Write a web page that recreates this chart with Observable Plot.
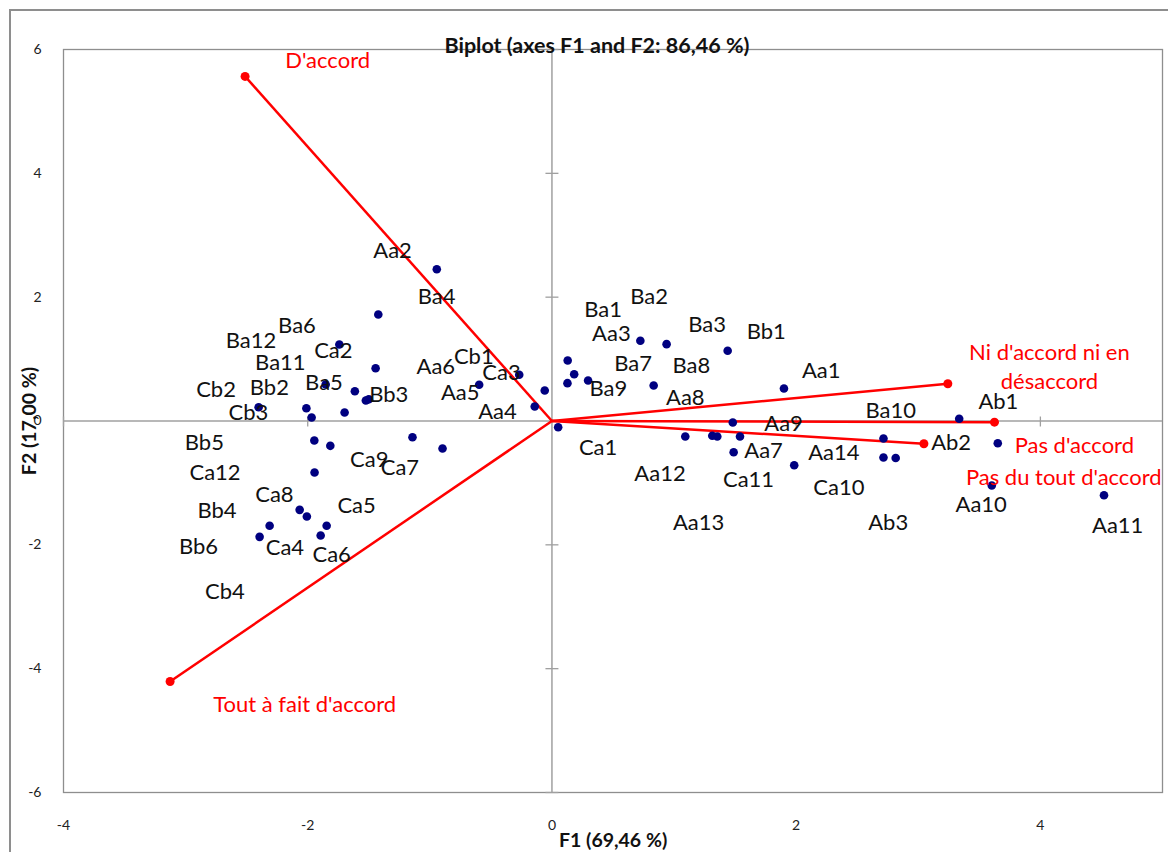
<!DOCTYPE html>
<html><head><meta charset="utf-8">
<script src="https://cdn.jsdelivr.net/npm/d3@7"></script>
<script src="https://cdn.jsdelivr.net/npm/@observablehq/plot@0.6"></script>
<style>
body{margin:0;background:#fff;}
#wrap{position:relative;width:1168px;height:852px;overflow:hidden;}
#border{position:absolute;left:9px;top:9px;width:1300px;height:1000px;border-left:2px solid #8e8e8e;border-top:2px solid #8e8e8e;}
#chart{position:absolute;left:0;top:0;}
</style></head><body>
<div id="wrap"><div id="border"></div><div id="chart"></div></div>
<script>
const obsNames = ["Aa2","Ba4","Ca2","Ba6","Ba5","Ba12","Bb3","Ba11","Aa6","Ca3","Cb1","Aa4","Cb3","Bb2","Cb2","Aa5","Bb5","Ca12","Ca9","Ca7","Ca8","Ca5","Bb4","Bb6","Ca4","Ca6","Cb4",
  "Ca1","Ba1","Ba7","Ba9","Aa8","Aa3","Ba2","Bb1","Ba8","Aa1","Aa9","Aa12","Aa13","Ba3","Aa7","Ca11","Ca10","Ba10","Aa14","Ab3","Ab1","Ab2","Aa10","Aa11"];
const obsF1 = [-0.943,-1.422,-1.741,-1.444,-1.853,-1.614,-1.524,-1.500,-0.596,-0.268,-0.059,-0.141,-2.402,-2.011,-1.968,-1.698,-1.946,-1.815,-1.142,-0.896,-1.944,-2.066,-2.007,-2.312,-1.845,-2.394,-1.894,
  0.051,0.129,0.182,0.127,0.296,0.724,0.939,1.439,0.833,1.900,1.481,1.092,1.313,1.354,1.540,1.488,1.984,2.715,2.715,2.815,3.335,3.651,3.602,4.521];
const obsF2 = [2.452,1.721,1.236,0.853,0.590,0.481,0.331,0.350,0.585,0.746,0.493,0.234,0.223,0.207,0.057,0.137,-0.315,-0.401,-0.262,-0.444,-0.832,-1.435,-1.543,-1.693,-1.693,-1.871,-1.850,
  -0.100,0.977,0.756,0.611,0.654,1.296,1.241,1.134,0.574,0.525,-0.024,-0.250,-0.239,-0.250,-0.250,-0.504,-0.714,-0.283,-0.590,-0.598,0.036,-0.359,-1.042,-1.199];
const obsLabelF1 = [-1.305,-0.945,-1.790,-2.088,-1.867,-2.465,-1.336,-2.224,-0.951,-0.413,-0.640,-0.446,-2.486,-2.314,-2.751,-0.751,-2.846,-2.759,-1.496,-1.245,-2.273,-1.600,-2.743,-2.895,-2.187,-1.804,-2.678,
  0.378,0.419,0.664,0.462,1.092,0.487,0.795,1.755,1.142,2.205,1.897,0.885,1.201,1.270,1.733,1.610,2.350,2.774,2.309,2.754,3.656,3.269,3.515,4.633];
const obsLabelF2 = [2.754,2.000,1.128,1.543,0.611,1.300,0.423,0.945,0.869,0.772,1.042,0.153,0.126,0.530,0.504,0.456,-0.359,-0.843,-0.627,-0.763,-1.187,-1.370,-1.446,-2.027,-2.048,-2.168,-2.754,
  -0.439,1.796,0.924,0.520,0.375,1.409,2.000,1.435,0.885,0.805,-0.045,-0.853,-1.651,1.548,-0.488,-0.950,-1.079,0.170,-0.520,-1.640,0.304,-0.359,-1.354,-1.688];

const varNames = ["D'accord","Tout à fait d'accord","Ni d'accord ni en\ndésaccord","Pas d'accord","Pas du tout d'accord"];
const varF1 = [-2.513,-3.127,3.242,3.624,3.046];
const varF2 = [5.565,-4.208,0.601,-0.019,-0.368];
const varLabelF1 = [-1.837,-2.025,4.074,4.278,4.191];
const varLabelF2 = [5.851,-4.543,0.901,-0.359,-0.880];

const xTicks = [-4,-2,0,2,4];
const yTicks = [-6,-4,-2,0,2,4,6];
const titleText = "Biplot (axes F1 and F2: 86,46 %)";
const xTitle = "F1 (69,46 %)";
const yTitle = "F2 (17,00 %)";

const obs = obsNames.map((name,i)=>({name, f1: obsF1[i], f2: obsF2[i], lx: obsLabelF1[i], ly: obsLabelF2[i]}));
const vars = varNames.map((name,i)=>({name, f1: varF1[i], f2: varF2[i], lx: varLabelF1[i], ly: varLabelF2[i]}));

const gray = "#8e8e8e";
const axGray = "#a0a0a0";
const fmt = d => String(d);

const chart = Plot.plot({
  width: 1168, height: 852,
  marginLeft: 63, marginRight: 6, marginTop: 49, marginBottom: 60,
  x: {domain: [-4, 5]},
  y: {domain: [-6, 6]},
  style: {fontFamily: "Lato, 'Open Sans', sans-serif", background: "transparent", overflow: "visible"},
  marks: [
    Plot.frame({stroke: gray, strokeWidth: 1.3}),
    Plot.ruleX([0], {stroke: axGray, strokeWidth: 1.5}),
    Plot.ruleY([0], {stroke: axGray, strokeWidth: 1.5}),
    Plot.ruleX(xTicks.filter(d => d !== 0), {x: d => d, y1: 0, y2: 0, insetTop: -4, insetBottom: -6, stroke: axGray, strokeWidth: 1.3}),
    Plot.ruleY(yTicks.filter(d => d !== 0), {y: d => d, x1: 0, x2: 0, insetLeft: -6, insetRight: -7, stroke: axGray, strokeWidth: 1.3}),
    Plot.axisX(xTicks, {tickSize: 0, tickPadding: 28, fontSize: 14, tickFormat: fmt, label: null, fill: "#222"}),
    Plot.axisY(yTicks, {tickSize: 0, tickPadding: 22, fontSize: 14, tickFormat: fmt, label: null, fill: "#222"}),
    Plot.link(vars, {x1: 0, y1: 0, x2: "f1", y2: "f2", stroke: "#ff0000", strokeWidth: 2.5}),
    Plot.dot(vars, {x: "f1", y: "f2", r: 4.5, fill: "#ff0000"}),
    Plot.dot(obs, {x: "f1", y: "f2", r: 4.3, fill: "#000080"}),
    Plot.text(obs, {x: "lx", y: "ly", text: "name", fontSize: 22, fill: "#111"}),
    Plot.text(vars, {x: "lx", y: "ly", text: "name", fontSize: 22, fill: "#ff0000", lineHeight: 1.32}),
    Plot.text([titleText], {frameAnchor: "top", dx: -16, dy: 3, lineAnchor: "bottom", fontSize: 21.5, fontWeight: "bold", fill: "#111"}),
    Plot.text([xTitle], {x: 0, frameAnchor: "bottom", dx: 7, dy: 48, textAnchor: "start", lineAnchor: "middle", fontSize: 19.5, fontWeight: "bold", fill: "#111"}),
    Plot.text([yTitle], {y: 0, frameAnchor: "left", dx: -34, rotate: -90, textAnchor: "middle", lineAnchor: "middle", fontSize: 19.5, fontWeight: "bold", fill: "#111"})
  ]
});
document.getElementById("chart").appendChild(chart);
</script>
</body></html>
